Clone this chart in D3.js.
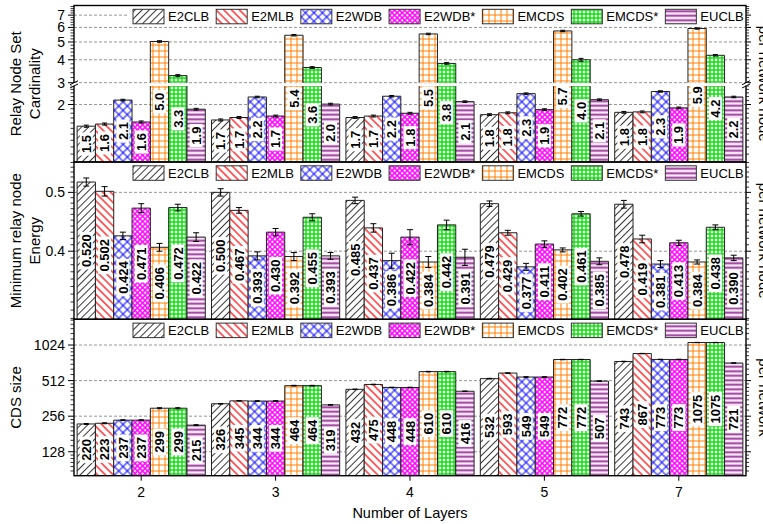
<!DOCTYPE html>
<html><head><meta charset="utf-8">
<script src="https://cdn.jsdelivr.net/npm/d3@7"></script>
<style>
body{margin:0;background:#fff}
svg{display:block}
text{font-family:"Liberation Sans",Arial,sans-serif;fill:#000}
</style>
</head><body>
<svg id="c" width="763" height="524"></svg>
<script>
// ---------- data ----------
const layers = ["2", "3", "4", "5", "7"];
const algorithms = ["E2CLB", "E2MLB", "E2WDB", "E2WDB*", "EMCDS", "EMCDS*", "EUCLB"];

// Relay node set cardinality (one row per algorithm, one column per layer count)
const cardinality = [
  [1.54, 1.66, 1.71, 1.77, 1.82],
  [1.58, 1.71, 1.74, 1.81, 1.83],
  [2.11, 2.19, 2.21, 2.28, 2.34],
  [1.62, 1.74, 1.80, 1.88, 1.92],
  [5.03, 5.44, 5.53, 5.74, 5.92],
  [3.28, 3.63, 3.82, 4.00, 4.23],
  [1.89, 2.01, 2.07, 2.12, 2.19]
];
const cardinalityErr = [
  [0.02, 0.02, 0.02, 0.02, 0.02],
  [0.02, 0.02, 0.02, 0.02, 0.02],
  [0.02, 0.02, 0.02, 0.02, 0.02],
  [0.02, 0.02, 0.02, 0.02, 0.02],
  [0.05, 0.05, 0.05, 0.05, 0.05],
  [0.04, 0.04, 0.04, 0.07, 0.04],
  [0.02, 0.02, 0.02, 0.02, 0.02]
];

// Minimum relay node energy
const energy = [
  [0.520, 0.500, 0.485, 0.479, 0.478],
  [0.502, 0.467, 0.437, 0.429, 0.419],
  [0.424, 0.393, 0.386, 0.377, 0.381],
  [0.471, 0.430, 0.422, 0.411, 0.413],
  [0.406, 0.392, 0.384, 0.402, 0.384],
  [0.472, 0.455, 0.442, 0.461, 0.438],
  [0.422, 0.393, 0.391, 0.385, 0.390]
];
const energyErr = [
  [0.008, 0.007, 0.006, 0.005, 0.007],
  [0.009, 0.005, 0.007, 0.004, 0.006],
  [0.006, 0.006, 0.011, 0.005, 0.005],
  [0.008, 0.006, 0.012, 0.005, 0.004],
  [0.006, 0.006, 0.008, 0.003, 0.003],
  [0.006, 0.006, 0.008, 0.004, 0.004],
  [0.007, 0.005, 0.012, 0.005, 0.004]
];

// CDS size
const cdsSize = [
  [220, 326, 432, 532, 743],
  [223, 345, 475, 593, 867],
  [237, 344, 448, 549, 773],
  [237, 344, 448, 549, 773],
  [299, 464, 610, 772, 1075],
  [299, 464, 610, 772, 1075],
  [215, 319, 416, 507, 721]
];
const cdsErr = [
  [2, 2, 2, 3, 3],
  [2, 2, 2, 3, 3],
  [2, 2, 2, 3, 3],
  [2, 2, 2, 3, 3],
  [3, 3, 3, 3, 3],
  [3, 3, 3, 3, 3],
  [2, 2, 2, 3, 3]
];

const cardTicksLow = [2];
const cardTicksHigh = [3, 4, 5, 6, 7];
const energyTicks = [0.4, 0.5];
const cdsTicks = [128, 256, 512, 1024];

// ---------- layout ----------
const svg = d3.select("#c");
const L = 74, R = 746;
const P1 = [5.5, 162], P2 = [162, 319.3], P3 = [319.3, 475.7];
const FONT = '"Liberation Sans",Arial,sans-serif';

const x0 = d3.scaleBand().domain(layers).range([L, R]).paddingInner(0).paddingOuter(0);
const x1 = d3.scaleBand().domain(algorithms).range([0, x0.bandwidth()]).paddingInner(0).paddingOuter(0.17);

// scales
const yLow = d3.scaleLog().domain([1, 2.5]).range([P1[1], 86]);
const yHigh = d3.scaleLog().domain([3, 7.9]).range([82.7, P1[0]]);
const yE = d3.scaleLog().domain([0.309, 0.561]).range([P2[1], P2[0]]);
const yC = d3.scaleLog().base(2).domain([80.3, 1690]).range([P3[1], P3[0]]);

// ---------- patterns ----------
const defs = svg.append("defs");
const patSpec = [
  {size: 5,   rot: 45,  color: "#222",    sw: 0.9, v: true,  h: false, bg: "#fff"},
  {size: 5.5, rot: -45, color: "#ff0000", sw: 1.2, v: true,  h: false, bg: "#fff"},
  {size: 6,   rot: 45,  color: "#0000ff", sw: 1.0, v: true,  h: true,  bg: "#fff"},
  {size: 3.6, rot: 45,  color: "#ff00ff", sw: 1.5, v: true,  h: true,  bg: "#fff"},
  {size: 6,   rot: 0,   color: "#ff8000", sw: 1.0, v: true,  h: true,  bg: "#fff"},
  {size: 4,   rot: 0,   color: "#00e000", sw: 1.4, v: true,  h: true,  bg: "#fff"},
  {size: 4.5, rot: 0,   color: "#993399", sw: 1.8, v: false, h: true,  bg: "#f6e8f6"}
];
patSpec.forEach((p, i) => {
  const pat = defs.append("pattern").attr("id", "pat" + i)
    .attr("patternUnits", "userSpaceOnUse")
    .attr("width", p.size).attr("height", p.size)
    .attr("patternTransform", `rotate(${p.rot})`);
  pat.append("rect").attr("width", p.size).attr("height", p.size).attr("fill", p.bg);
  if (p.v) pat.append("line").attr("x1", p.size / 2).attr("x2", p.size / 2).attr("y1", 0).attr("y2", p.size)
    .attr("stroke", p.color).attr("stroke-width", p.sw);
  if (p.h) pat.append("line").attr("y1", p.size / 2).attr("y2", p.size / 2).attr("x1", 0).attr("x2", p.size)
    .attr("stroke", p.color).attr("stroke-width", p.sw);
});

// ---------- helpers ----------
const gGrid = svg.append("g");
const gBars = svg.append("g");
const gLabels = svg.append("g");
const gErr = svg.append("g");
const gLegend = svg.append("g");
const gAxes = svg.append("g");

function gridLine(y) {
  gGrid.append("line").attr("x1", L).attr("x2", R).attr("y1", y).attr("y2", y)
    .attr("stroke", "#8a8a8a").attr("stroke-width", 0.9).attr("stroke-dasharray", "3,2");
}

function barPiece(i, x, w, yTop, yBot, drawTop) {
  gBars.append("rect").attr("x", x).attr("y", yTop).attr("width", w).attr("height", yBot - yTop)
    .attr("fill", `url(#pat${i})`);
  let d = `M${x},${yBot}V${yTop}`;
  d += drawTop ? `H${x + w}` : `M${x + w},${yTop}`;
  d += `V${yBot}`;
  gBars.append("path").attr("d", d).attr("fill", "none").attr("stroke", "#222").attr("stroke-width", 1);
}

function label(cx, cy, txt) {
  const t = gLabels.append("text").attr("transform", `translate(${cx},${cy}) rotate(-90)`)
    .attr("text-anchor", "middle").attr("dy", "0.36em")
    .style("font-size", "13px").style("font-weight", "bold").text(txt);
  const len = t.node().getComputedTextLength();
  gLabels.insert("rect", "text:last-child")
    .attr("x", cx - 6.5).attr("y", cy - len / 2 - 2.5).attr("width", 13).attr("height", len + 5)
    .attr("fill", "#fff");
}

function errBar(cx, yA, yB, cap) {
  gErr.append("path")
    .attr("d", `M${cx},${yA}V${yB}M${cx - cap / 2},${yA}H${cx + cap / 2}M${cx - cap / 2},${yB}H${cx + cap / 2}`)
    .attr("stroke", "#000").attr("stroke-width", 1).attr("fill", "none");
}

function legend(top) {
  const g = gLegend.append("g");
  const bg = g.append("rect").attr("fill", "#fff");
  let x = 133;
  algorithms.forEach((a, i) => {
    g.append("rect").attr("x", x).attr("y", top).attr("width", 31).attr("height", 14.5)
      .attr("fill", `url(#pat${i})`).attr("stroke", "#333").attr("stroke-width", 1);
    const t = g.append("text").attr("x", x + 35).attr("y", top + 7.25).attr("dy", "0.36em")
      .style("font-size", "13px").text(a);
    x += 35 + t.node().getComputedTextLength() + 7;
  });
  bg.attr("x", 129).attr("y", top - 2).attr("width", x - 129 - 3).attr("height", 18.5);
}

function leftTicks(scale, majors, minors, fmt) {
  majors.forEach(v => {
    const y = scale(v);
    gAxes.append("line").attr("x1", L - 6).attr("x2", L).attr("y1", y).attr("y2", y).attr("stroke", "#000");
    gAxes.append("line").attr("x1", R).attr("x2", R + 5).attr("y1", y).attr("y2", y).attr("stroke", "#000");
    gAxes.append("text").attr("x", L - 9).attr("y", y).attr("dy", "0.36em").attr("text-anchor", "end")
      .style("font-size", "14px").text(fmt ? fmt(v) : v);
  });
  minors.forEach(v => {
    const y = scale(v);
    gAxes.append("line").attr("x1", L - 3.5).attr("x2", L).attr("y1", y).attr("y2", y).attr("stroke", "#000").attr("stroke-width", 0.8);
    gAxes.append("line").attr("x1", R).attr("x2", R + 3).attr("y1", y).attr("y2", y).attr("stroke", "#000").attr("stroke-width", 0.8);
  });
}

// ---------- panel 1: cardinality (broken log axis) ----------
cardTicksLow.forEach(v => gridLine(yLow(v)));
cardTicksHigh.forEach(v => gridLine(yHigh(v)));
algorithms.forEach((a, i) => {
  layers.forEach((l, j) => {
    const v = cardinality[i][j], e = cardinalityErr[i][j];
    const bx = x0(l) + x1(a), w = x1.bandwidth(), cx = bx + w / 2;
    let top;
    if (v >= 3) {
      barPiece(i, bx, w, yLow(2.5), P1[1], false);
      top = yHigh(v);
      barPiece(i, bx, w, top, yHigh(3), true);
      errBar(cx, yHigh(v + e), yHigh(v - e), 5);
    } else {
      top = yLow(v);
      barPiece(i, bx, w, top, P1[1], true);
      errBar(cx, yLow(v + e), yLow(v - e), 5);
    }
    label(cx, (top + P1[1]) / 2, d3.format(".1f")(v));
  });
});
legend(P1[0] + 3.8);

// ---------- panel 2: energy ----------
energyTicks.forEach(v => gridLine(yE(v)));
algorithms.forEach((a, i) => {
  layers.forEach((l, j) => {
    const v = energy[i][j], e = energyErr[i][j];
    const bx = x0(l) + x1(a), w = x1.bandwidth(), cx = bx + w / 2;
    const top = yE(v);
    barPiece(i, bx, w, top, P2[1], true);
    errBar(cx, yE(v + e), yE(v - e), 6);
    label(cx, (top + P2[1]) / 2, d3.format(".3f")(v));
  });
});
legend(P2[0] + 3.8);

// ---------- panel 3: CDS size ----------
cdsTicks.forEach(v => gridLine(yC(v)));
algorithms.forEach((a, i) => {
  layers.forEach((l, j) => {
    const v = cdsSize[i][j], e = cdsErr[i][j];
    const bx = x0(l) + x1(a), w = x1.bandwidth(), cx = bx + w / 2;
    const top = yC(v);
    barPiece(i, bx, w, top, P3[1], true);
    errBar(cx, yC(v + e), yC(v - e), 5);
    label(cx, (top + P3[1]) / 2, String(v));
  });
});
legend(P3[0] + 3.8);

// ---------- axes ----------
// panel 1 ticks
const minorLow = d3.range(11, 26).map(k => k / 10).filter(v => v !== 2);
const minorHigh = d3.range(16, 40).map(k => k / 5).filter(v => v > 3 && v < 7.9 && Math.abs(v - Math.round(v)) > 1e-6);
leftTicks(yLow, cardTicksLow, minorLow);
leftTicks(yHigh, cardTicksHigh, minorHigh);
// panel 2 ticks
const minorE = d3.range(31, 57).map(k => k / 100).filter(v => v !== 0.4 && v !== 0.5 && v >= 0.309 && v <= 0.561);
leftTicks(yE, energyTicks, minorE, d3.format(".1f"));
// panel 3 ticks
const minorC = [];
[64, 128, 256, 512, 1024].forEach(b => d3.range(1, 8).forEach(k => {
  const v = b * (1 + k / 8);
  if (v > 80.3 && v < 1690) minorC.push(v);
}));
leftTicks(yC, cdsTicks, minorC);

// frames
[P1, P2, P3].forEach(p => {
  gAxes.append("rect").attr("x", L).attr("y", p[0]).attr("width", R - L).attr("height", p[1] - p[0])
    .attr("fill", "none").attr("stroke", "#000").attr("stroke-width", 1.4);
});

// axis break marks
[L, R].forEach(xx => {
  gAxes.append("rect").attr("x", xx - 2).attr("y", 82.9).attr("width", 4).attr("height", 2.9).attr("fill", "#fff");
  [82.7, 86].forEach(yy => {
    gAxes.append("line").attr("x1", xx - 4).attr("y1", yy + 2).attr("x2", xx + 4).attr("y2", yy - 2)
      .attr("stroke", "#000").attr("stroke-width", 1);
  });
});

// x axis
layers.forEach(l => {
  const cx = x0(l) + x0.bandwidth() / 2;
  gAxes.append("line").attr("x1", cx).attr("x2", cx).attr("y1", P3[1]).attr("y2", P3[1] + 5).attr("stroke", "#000");
  gAxes.append("text").attr("x", cx).attr("y", 496.5).attr("text-anchor", "middle").style("font-size", "14px").text(l);
});
gAxes.append("text").attr("x", (L + R) / 2).attr("y", 518).attr("text-anchor", "middle")
  .style("font-size", "14.5px").text("Number of Layers");

// y titles
function yTitle(lines, cy) {
  const xs = [21, 40];
  lines.forEach((t, k) => {
    gAxes.append("text").attr("transform", `translate(${xs[k]},${cy}) rotate(-90)`)
      .attr("text-anchor", "middle").style("font-size", "15px").text(t);
  });
}
yTitle(["Relay Node Set", "Cardinality"], (P1[0] + P1[1]) / 2);
yTitle(["Minimum relay node", "Energy"], (P2[0] + P2[1]) / 2);
yTitle(["CDS size"], (P3[0] + P3[1]) / 2);

// right-side titles
function rTitle(t, cy) {
  gAxes.append("text").attr("transform", `translate(759,${cy}) rotate(90)`)
    .attr("text-anchor", "middle").style("font-size", "15px").text(t);
}
rTitle("per network node", (P1[0] + P1[1]) / 2);
rTitle("per network node", (P2[0] + P2[1]) / 2);
rTitle("per network", (P3[0] + P3[1]) / 2);
</script>
</body></html>
